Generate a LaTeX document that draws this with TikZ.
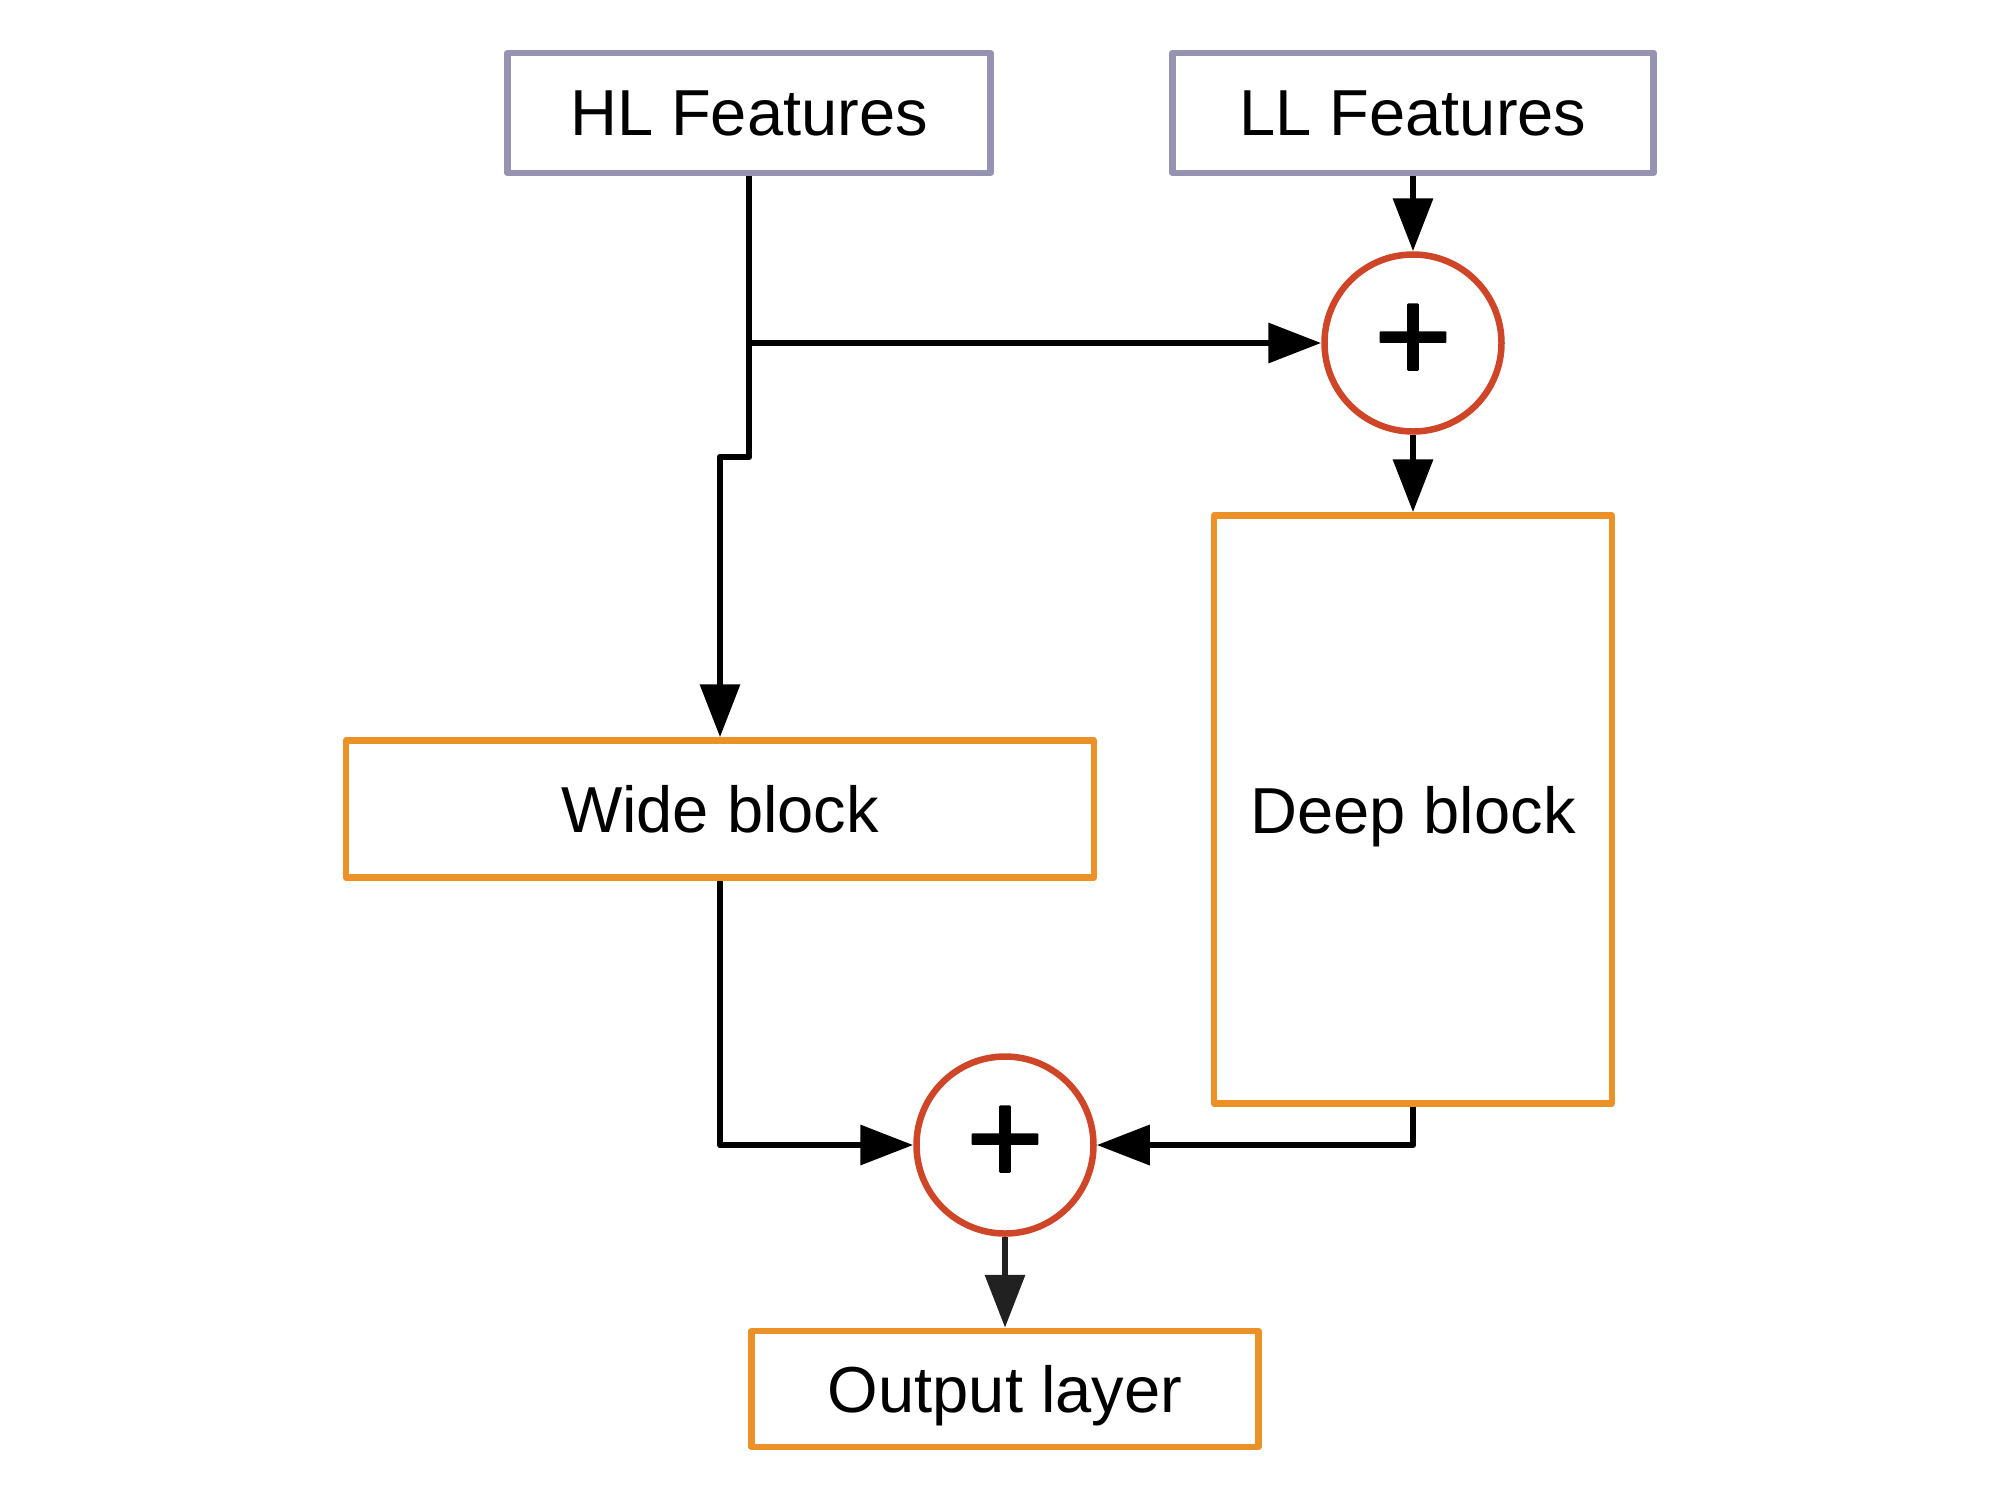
\documentclass[tikz,border=0pt]{standalone}
\usepackage{fontspec}
\setmainfont{Liberation Sans}
\newfontfamily\plusfont[FakeBold=1.5]{Liberation Sans}
\usetikzlibrary{arrows.meta}
\definecolor{featcol}{HTML}{9592B2}
\definecolor{blockcol}{HTML}{EB9128}
\definecolor{sumcol}{HTML}{CF4527}
\tikzset{
  feat/.style={draw=featcol, line width=1.85pt, rectangle, inner sep=0pt, text depth=0pt, minimum height=1.2cm, font=\fontsize{18.5}{22}\selectfont},
  block/.style={draw=blockcol, line width=1.85pt, rectangle, inner sep=0pt, text depth=0pt, font=\fontsize{18.5}{22}\selectfont},
  sum/.style={draw=sumcol, line width=1.85pt, circle, inner sep=0pt, minimum size=1.77cm, font=\fontsize{38}{38}\plusfont},
  link/.style={line width=1.9pt, line join=round, -{Triangle[length=5.3mm,width=3.9mm]}}
}
\begin{document}
\begin{tikzpicture}[line join=round]
\useasboundingbox (0,0) rectangle (20,-15);
\node[feat, minimum width=4.83cm] (hl) at (7.49,-1.13) {HL Features};
\node[feat, minimum width=4.81cm] (ll) at (14.13,-1.13) {LL Features};
\node[sum] (sumtop) at (14.13,-3.43) {\raisebox{-0.05em}{+}};
\node[block, minimum width=3.98cm, minimum height=5.88cm] (deep) at (14.13,-8.095) {Deep block};
\node[block, minimum width=7.48cm, minimum height=1.37cm] (wide) at (7.2,-8.09) {Wide block};
\node[sum] (sumbot) at (10.05,-11.45) {\raisebox{-0.05em}{+}};
\node[block, minimum width=5.07cm, minimum height=1.16cm] (out) at (10.05,-13.89) {Output layer};
\coordinate (jog) at (7.49,-4.57);
\draw[link] (hl.south) -- (jog) -| (wide.north);
\draw[link] (hl |- sumtop) -- (sumtop.west);
\draw[link] (ll.south) -- (sumtop.north);
\draw[link] (sumtop.south) -- (deep.north);
\draw[link] (wide.south) |- (sumbot.west);
\draw[link] (deep.south) |- (sumbot.east);
\draw[link, black!87] (sumbot.south) -- (out.north);
\end{tikzpicture}
\end{document}
